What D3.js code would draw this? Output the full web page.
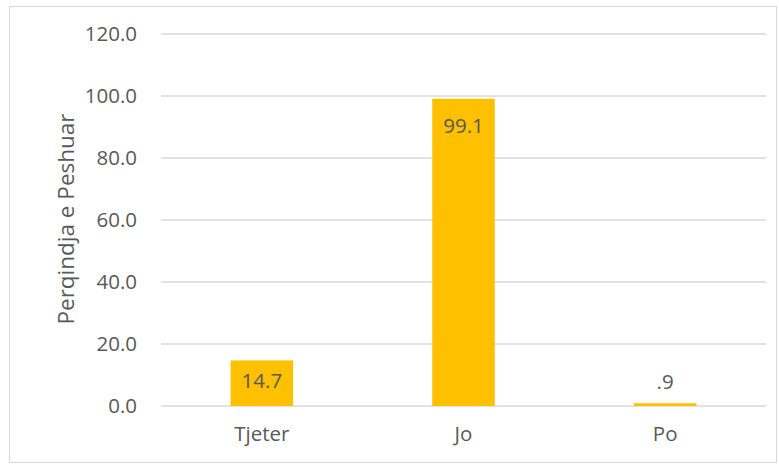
<!DOCTYPE html>
<html>
<head>
<meta charset="utf-8">
<script src="https://cdn.jsdelivr.net/npm/d3@7"></script>
<style>
	body { margin: 0; background: #fff; }
	text { font-family: "Open Sans", sans-serif; fill: #595959; }
</style>
</head>
<body>
<svg id="chart"></svg>
<script>
/*=================
=== The data
=================*/
var categories = ['Tjeter', 'Jo', 'Po'];
var values = [14.7, 99.1, 0.9];
var valueLabels = ['14.7', '99.1', '.9'];
var yTicks = [0, 20, 40, 60, 80, 100, 120];

var width = 779;
var height = 464;
var margin = { top: 34, right: 13, bottom: 58, left: 161 };
var plotW = width - margin.left - margin.right;
var plotH = height - margin.top - margin.bottom;

var svg = d3.select('#chart')
	.attr('width', width)
	.attr('height', height);

// chart border
svg.append('rect')
	.attr('x', 9.5)
	.attr('y', 6.5)
	.attr('width', 767)
	.attr('height', 456)
	.attr('fill', 'none')
	.attr('stroke', '#d9d9d9');

var g = svg.append('g')
	.attr('transform', 'translate(' + margin.left + ',' + margin.top + ')');

var x = d3.scaleBand()
	.domain(categories)
	.range([0, plotW])
	.paddingInner(0.69)
	.paddingOuter(0.345);

var y = d3.scaleLinear()
	.domain([0, 120])
	.range([plotH, 0]);

// gridlines
g.append('g')
	.selectAll('line')
	.data(yTicks)
	.enter()
	.append('line')
	.attr('x1', 0)
	.attr('x2', plotW)
	.attr('y1', function (d) { return y(d); })
	.attr('y2', function (d) { return y(d); })
	.attr('stroke', '#d9d9d9')
	.attr('stroke-width', 1.5);

// y axis labels
var yAxis = g.append('g')
	.call(d3.axisLeft(y).tickValues(yTicks).tickFormat(d3.format('.1f')).tickSize(0).tickPadding(24));
yAxis.select('.domain').remove();
yAxis.selectAll('text')
	.style('font-size', '20.5px')
	.attr('fill', '#595959');

// bars
g.selectAll('.bar')
	.data(values)
	.enter()
	.append('rect')
	.attr('class', 'bar')
	.attr('x', function (d, i) { return x(categories[i]); })
	.attr('y', function (d) { return y(d); })
	.attr('width', x.bandwidth())
	.attr('height', function (d) { return plotH - y(d); })
	.attr('fill', '#ffc000');

// value labels: inside end when the bar is tall enough, above otherwise
g.selectAll('.lbl')
	.data(values)
	.enter()
	.append('text')
	.attr('class', 'lbl')
	.attr('x', function (d, i) { return x(categories[i]) + x.bandwidth() / 2; })
	.attr('y', function (d) {
		if (d > 5) return Math.min(y(d) + 27, (y(d) + plotH) / 2 - 2);
		return y(d) - 21;
	})
	.attr('text-anchor', 'middle')
	.attr('dy', '0.35em')
	.style('font-size', '20.5px')
	.attr('fill', '#404040')
	.text(function (d, i) { return valueLabels[i]; });

// x axis labels
var xAxis = g.append('g')
	.attr('transform', 'translate(0,' + plotH + ')')
	.call(d3.axisBottom(x).tickSize(0).tickPadding(20));
xAxis.select('.domain').remove();
xAxis.selectAll('text')
	.style('font-size', '20.5px')
	.attr('fill', '#595959');

// y axis title
svg.append('text')
	.attr('transform', 'translate(66,' + 219 + ') rotate(-90)')
	.attr('text-anchor', 'middle')
	.attr('dy', '0.35em')
	.style('font-size', '22.5px')
	.text('Perqindja e Peshuar');
</script>
</body>
</html>
